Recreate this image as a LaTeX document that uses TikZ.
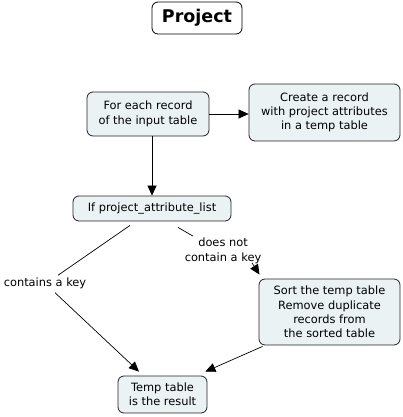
\documentclass[tikz,border=0pt]{standalone}
\usepackage{fontspec}
\setmainfont{DejaVu Sans}
\usetikzlibrary{arrows.meta,calc}
\definecolor{boxfill}{HTML}{EBF2F4}
\definecolor{boxline}{HTML}{222222}
\tikzset{
  cbox/.style={draw=boxline, fill=boxfill, rounded corners=6pt, line width=0.8pt, align=center, inner sep=2pt, font=\fontsize{11.4}{14.3}\selectfont},
  lbl/.style={align=center, inner sep=1pt, font=\fontsize{11.4}{14.3}\selectfont},
  conn/.style={draw=black, line width=0.7pt},
  arr/.style={conn, -{Triangle[length=10pt,width=9pt]}}
}
\begin{document}
\begin{tikzpicture}[x=1pt,y=-1pt]
\useasboundingbox (0,0) rectangle (402,417);
\node[cbox, draw=black, fill=white, minimum width=90pt, minimum height=32pt, font=\fontsize{17.5}{20}\bfseries] (proj) at (197,18) {Project};
\node[cbox, minimum width=122pt, minimum height=44pt] (each) at (148,114) {For each record\\of the input table};
\node[cbox, minimum width=151pt, minimum height=57pt] (create) at (324.5,112.5) {Create a record\\with project attributes\\in a temp table};
\node[cbox, minimum width=158pt, minimum height=25pt] (if) at (152,208.5) {If project\_attribute\_list};
\node[cbox, minimum width=141pt, minimum height=66pt] (sort) at (329.5,312) {Sort the temp table\\Remove duplicate\\records from\\the sorted table};
\node[cbox, minimum width=89pt, minimum height=37pt] (temp) at (162.5,394.5) {Temp table\\is the result};
\node[lbl] (dn) at (223,251) {does not\\contain a key};
\node[lbl] (ck) at (45,283) {contains a key};
\draw[arr] (each.east) -- (each.east -| create.west);
\draw[arr] (each.south -| 152,0) -- (if.north -| 152,0);
\draw[conn] ($(if.south)+(26,6)$) -- ($(dn.north)+(-30,-1)$);
\draw[arr] ($(dn.south)+(29,-2)$) -- ($(sort.north)+(-70,-4)$);
\draw[conn] ($(if.south)+(-22,4)$) -- ($(ck.north)+(13,-1)$);
\draw[arr] ($(ck.south)+(10,3)$) -- ($(temp.north)+(-23.5,-4)$);
\draw[arr] ($(sort.south west)+(4,1)$) -- ($(temp.north east)+(-2,-4)$);
\end{tikzpicture}
\end{document}
